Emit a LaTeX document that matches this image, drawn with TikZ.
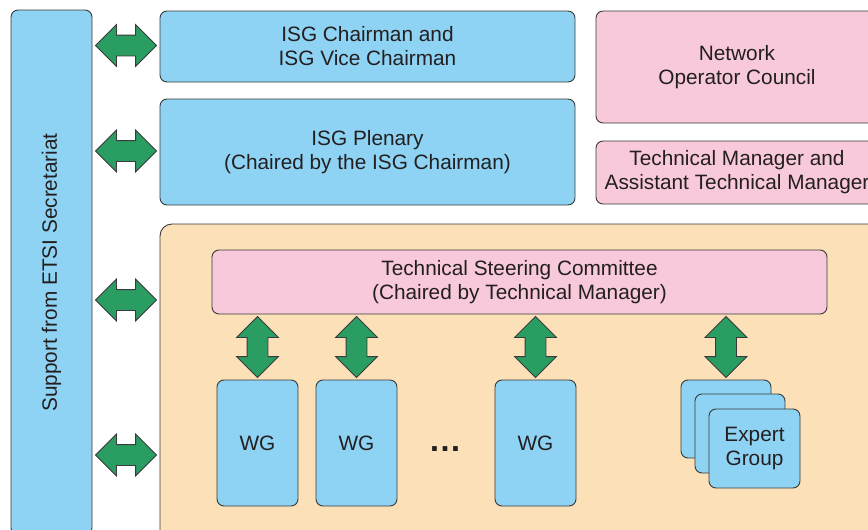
\documentclass[tikz,border=0pt]{standalone}
\usepackage{fontspec}
\setmainfont{Liberation Sans}
\usetikzlibrary{shapes.arrows,calc}
\definecolor{boxblue}{HTML}{8ED3F3}
\definecolor{boxpink}{HTML}{F8C9DA}
\definecolor{boxorange}{HTML}{FCE0B8}
\definecolor{arrowgreen}{HTML}{2A9D63}
\definecolor{edge}{HTML}{3A3A3A}
\definecolor{ink}{HTML}{231F20}
\tikzset{
  panel/.style={draw=edge, line width=0.9pt, rounded corners=7pt, inner sep=0pt,
    text=ink, align=center, font=\fontsize{20.8}{24}\selectfont},
  bluebox/.style={panel, fill=boxblue},
  pinkbox/.style={panel, fill=boxpink},
  dblarrow/.style={shape=double arrow, draw=edge, fill=arrowgreen, line width=0.8pt,
    inner xsep=0pt, inner ysep=10pt, double arrow head extend=10.5pt,
    double arrow tip angle=90, minimum height=61pt}
}
\begin{document}
\begin{tikzpicture}[x=1pt,y=-1pt]
\useasboundingbox (0,0) rectangle (868,530);
\clip (0,0) rectangle (868,530);

% secretariat support bar
\node[bluebox, minimum width=81pt, minimum height=525pt] (bar) at (51.5,272.5) {};
\node[rotate=90, text=ink, font=\fontsize{20.8}{24}\selectfont] (barlabel) at (bar.center) {Support from ETSI Secretariat};

% top-level bodies
\node[bluebox, minimum width=415pt, minimum height=71pt] (chair) at (367.5,46.5)
  {ISG Chairman and\\ISG Vice Chairman};
\node[bluebox, minimum width=415pt, minimum height=106pt] (plenary) at (367.5,152)
  {ISG Plenary\\(Chaired by the ISG Chairman)};
\node[pinkbox, minimum width=282pt, minimum height=112pt] (noc) at (737,67)
  {Network\\Operator Council};
\node[pinkbox, minimum width=282pt, minimum height=63pt] (tm) at (737,172.5)
  {Technical Manager and\\Assistant Technical Manager};

% technical group area
\node[panel, fill=boxorange, rounded corners=12pt, minimum width=720pt, minimum height=321pt] (group) at (520,384.5) {};
\node[pinkbox, minimum width=615pt, minimum height=64pt] (tsc) at (519.5,282)
  {Technical Steering Committee\\(Chaired by Technical Manager)};

\node[bluebox, minimum width=81pt, minimum height=126pt] (wg1) at (257.5,443) {WG};
\node[bluebox, minimum width=81pt, minimum height=126pt] (wg2) at (356.5,443) {WG};
\node[bluebox, minimum width=81pt, minimum height=126pt] (wg3) at (535.5,443) {WG};
\node[text=ink, inner sep=0pt, font=\fontsize{33}{24}\selectfont\bfseries] (dots) at (445,449) {\ldots};

\node[bluebox, minimum width=90pt, minimum height=78pt] (eg1) at (726,419) {};
\node[bluebox, minimum width=90pt, minimum height=79pt] (eg2) at (740,433.5) {};
\node[bluebox, minimum width=91pt, minimum height=79pt] (eg3) at (754.5,448.5) {Expert\\Group};

% links to the secretariat
\node[dblarrow] (l1) at ($(bar.east |- 0,45.5)!0.5!(chair.west |- 0,45.5)$) {};
\node[dblarrow] (l2) at ($(bar.east |- 0,151)!0.5!(plenary.west |- 0,151)$) {};
\coordinate (g1) at (group.west |- 0,300);
\coordinate (g2) at (group.west |- 0,455);
\node[dblarrow] (l3) at ($(bar.east |- g1)!0.5!(g1)$) {};
\node[dblarrow] (l4) at ($(bar.east |- g2)!0.5!(g2)$) {};

% links from the steering committee
\node[dblarrow, rotate=90] (v1) at ($(tsc.south -| wg1.north)!0.5!(wg1.north)$) {};
\node[dblarrow, rotate=90] (v2) at ($(tsc.south -| wg2.north)!0.5!(wg2.north)$) {};
\node[dblarrow, rotate=90] (v3) at ($(tsc.south -| wg3.north)!0.5!(wg3.north)$) {};
\node[dblarrow, rotate=90] (v4) at ($(tsc.south -| eg1.north)!0.5!(eg1.north)$) {};
\end{tikzpicture}
\end{document}
